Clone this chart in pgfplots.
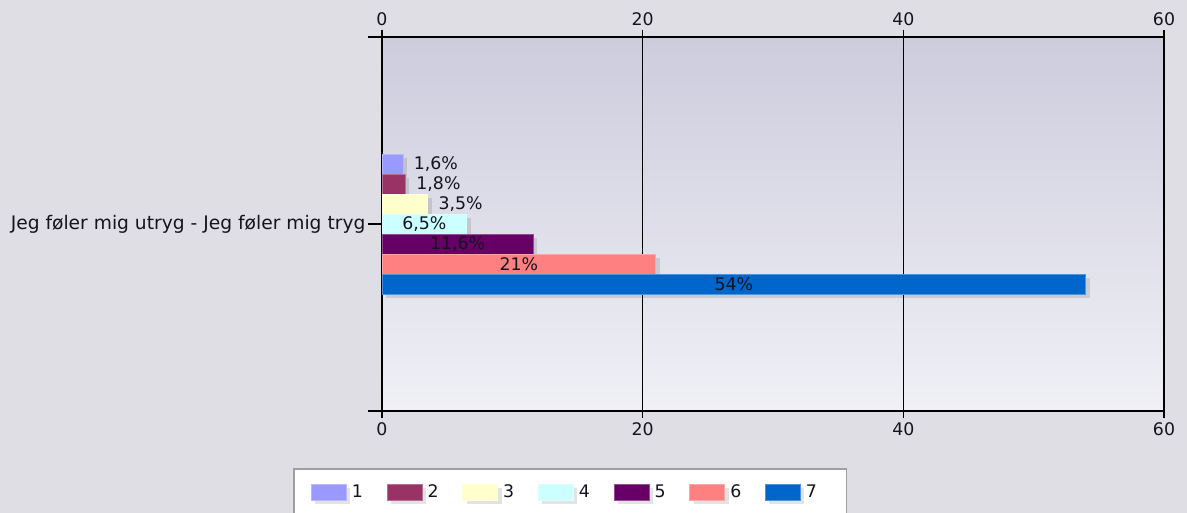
\documentclass[border=0pt]{standalone}
\usepackage{fontspec}
\setmainfont{DejaVu Sans}
\usepackage{pgfplots}
\pgfplotsset{compat=1.18}
\definecolor{bgout}{RGB}{223,222,228}
\definecolor{bgtop}{RGB}{205,204,221}
\definecolor{bgbot}{RGB}{240,240,246}
\definecolor{c1}{RGB}{153,153,255}
\definecolor{c2}{RGB}{153,51,102}
\definecolor{c3}{RGB}{255,255,204}
\definecolor{c4}{RGB}{204,255,255}
\definecolor{c5}{RGB}{102,0,102}
\definecolor{c6}{RGB}{255,128,128}
\definecolor{c7}{RGB}{0,102,204}
\definecolor{txt}{RGB}{20,20,30}
\newcommand{\chartfont}{\fontsize{13}{15}\selectfont}

\pgfplotsset{
  shadow/.style={preaction={fill=black, fill opacity=0.11, draw=none,
    transform canvas={xshift=3pt, yshift=-3pt}}},
  lbl out/.style={nodes near coords,
    every node near coord/.append style={anchor=west, inner sep=0pt, xshift=8pt,
      text=txt, font=\chartfont}},
  lbl in/.style={nodes near coords,
    visualization depends on={x \as \rawx},
    every node near coord/.append style={anchor=center, inner sep=0pt,
      xshift={-4.8875pt*\rawx}, text=txt, font=\chartfont}},
}

\begin{document}
\begin{tikzpicture}[x=0.75pt,y=0.75pt]
\fill[bgout] (0,0) rectangle (1187,513);
\path[use as bounding box] (0,0) rectangle (1187,513);

% axis carrying the top tick labels
\begin{axis}[
    at={(286.5pt,76.5pt)}, anchor=south west,
    width=586.5pt, height=280.5pt, scale only axis,
    xmin=0, xmax=60, ymin=-1, ymax=1,
    xtick={0,20,40,60}, ytick=\empty,
    xtick pos=upper, xticklabel pos=upper,
    tick align=outside, major tick length=5.25pt,
    axis line style={draw=none},
    xtick style={black, line width=1pt},
    tick label style={font=\chartfont, text=txt},
    /pgf/number format/assume math mode=true,
]
\end{axis}

\begin{axis}[
    at={(286.5pt,76.5pt)}, anchor=south west,
    width=586.5pt, height=280.5pt, scale only axis,
    xbar, bar width=15pt,
    xmin=0, xmax=60, ymin=-1, ymax=1,
    xtick={0,20,40,60},
    ytick={-1,0,1},
    yticklabels={,Jeg føler mig utryg - Jeg føler mig tryg,},
    xtick pos=both, ytick pos=left,
    xticklabel pos=lower,
    tick align=outside, major tick length=5.25pt,
    ytick style={/pgfplots/major tick length=10.5pt, black, line width=1pt},
    xtick style={black, line width=1pt},
    tick label style={font=\chartfont, text=txt},
    yticklabel style={font=\fontsize{14}{16}\selectfont, inner sep=0pt, xshift=-7pt},
    /pgf/number format/assume math mode=true,
    xmajorgrids,
    major grid style={black, line width=1pt},
    axis line style={black, line width=1pt},
    axis background/.style={top color=bgtop, bottom color=bgbot},
    point meta=explicit symbolic,
    legend columns=7,
    legend style={at={(-0.1138,-0.1524)}, anchor=north west,
      draw=gray!75, line width=1.2pt, fill=white, font=\chartfont, text=txt,
      inner xsep=10pt, inner ysep=10pt,
      /tikz/every odd column/.append style={column sep=2pt},
      /tikz/every even column/.append style={column sep=13pt}},
    legend image code/.code={\path[draw=none, fill=none] (0pt,0pt) -- (3pt,0pt);
      \path[#1, line width=0.5pt] (3pt,-6pt) rectangle (29.25pt,6pt);},
]
\addplot[fill=c1, draw=c1!70!white, line width=0.5pt, bar shift=45pt, shadow, lbl out]
  coordinates {(1.6,0) [1,6\%]};
\addplot[fill=c2, draw=c2!70!white, line width=0.5pt, bar shift=30pt, shadow, lbl out]
  coordinates {(1.8,0) [1,8\%]};
\addplot[fill=c3, draw=c3!70!white, line width=0.5pt, bar shift=15pt, shadow, lbl out]
  coordinates {(3.5,0) [3,5\%]};
\addplot[fill=c4, draw=c4!70!white, line width=0.5pt, bar shift=0pt, shadow, lbl in]
  coordinates {(6.5,0) [6,5\%]};
\addplot[fill=c5, draw=c5!70!white, line width=0.5pt, bar shift=-15pt, shadow, lbl in]
  coordinates {(11.6,0) [11,6\%]};
\addplot[fill=c6, draw=c6!70!white, line width=0.5pt, bar shift=-30pt, shadow, lbl in]
  coordinates {(21,0) [21\%]};
\addplot[fill=c7, draw=c7!70!white, line width=0.5pt, bar shift=-45pt, shadow, lbl in]
  coordinates {(54,0) [54\%]};
\legend{1,2,3,4,5,6,{7\kern10pt}}
\end{axis}
\end{tikzpicture}
\end{document}
